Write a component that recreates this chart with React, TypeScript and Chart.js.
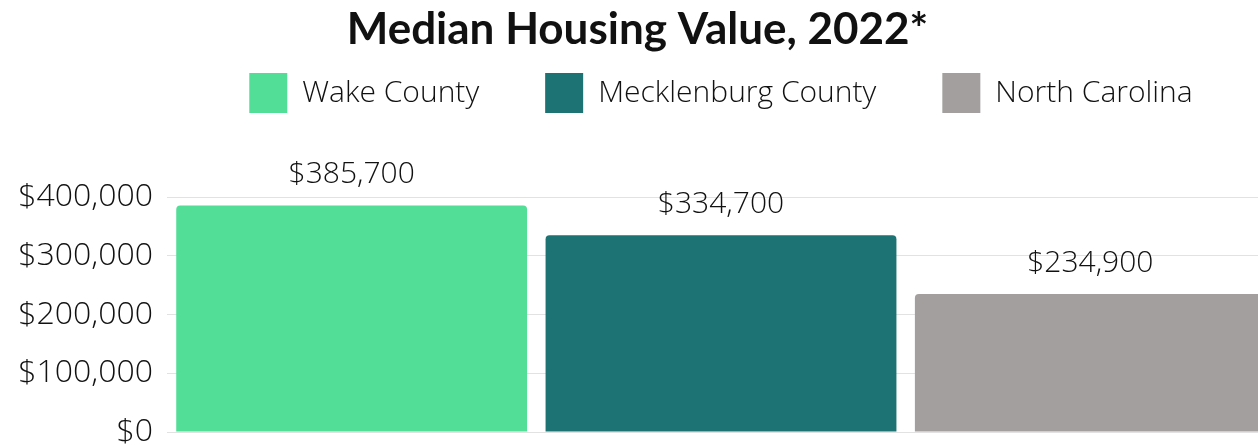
import { useEffect, useRef } from 'react';
import { Chart, registerables } from 'chart.js';

Chart.register(...registerables);

const titleText = 'Median Housing Value, 2022*';
const categories = ['Median Housing Value, 2022'];
const seriesNames = ['Wake County', 'Mecklenburg County', 'North Carolina'];
const seriesValues = [385700, 334700, 234900];
const seriesColors = ['#53DE98', '#1D7373', '#A29F9E'];
const yTickValues = [0, 100000, 200000, 300000, 400000];

const FONT = '"Open Sans", "Noto Sans", sans-serif';
const fmt = (v: number) => '$' + v.toLocaleString('en-US');

const valueLabels = {
  id: 'valueLabels',
  afterDatasetsDraw(chart: any) {
    const ctx = chart.ctx;
    ctx.save();
    ctx.font = `300 30px ${FONT}`;
    ctx.fillStyle = '#111111';
    ctx.textAlign = 'center';
    ctx.textBaseline = 'alphabetic';
    chart.data.datasets.forEach((ds: any, i: number) => {
      const meta = chart.getDatasetMeta(i);
      meta.data.forEach((bar: any, j: number) => {
        ctx.fillText(fmt(ds.data[j]), bar.x, bar.y - 22);
      });
    });
    ctx.restore();
  },
};

export default function App() {
  const ref = useRef<HTMLCanvasElement | null>(null);

  useEffect(() => {
    if (!ref.current) return;
    const chart = new Chart(ref.current, {
      type: 'bar',
      data: {
        labels: categories,
        datasets: seriesNames.map((name, i) => ({
          label: name,
          data: [seriesValues[i]],
          backgroundColor: seriesColors[i],
          borderWidth: 0,
          borderRadius: 4,
          categoryPercentage: 1,
          barPercentage: 0.95,
        })),
      },
      options: {
        responsive: false,
        animation: false,
        devicePixelRatio: 1,
        layout: { padding: { top: 0, right: 5, bottom: 15, left: 0 } },
        plugins: {
          title: {
            display: true,
            text: titleText,
            color: '#111111',
            font: { family: 'Lato, "Open Sans", sans-serif', size: 44, weight: 'bold', lineHeight: 1.2 },
            padding: { top: 3, bottom: -48.8 },
          },
          legend: {
            display: true,
            position: 'top',
            fullSize: false,
            labels: {
              boxWidth: 38,
              boxHeight: 40,
              padding: 66,
              color: '#111111',
              font: { family: FONT, size: 30, weight: '300' },
            },
          },
          tooltip: { enabled: false },
        },
        scales: {
          x: {
            type: 'category',
            position: 'top',
            display: true,
            grid: { display: false },
            border: { display: false },
            ticks: { display: false },
            afterFit: (s: any) => {
              s.height = 74;
            },
          },
          y: {
            type: 'linear',
            min: 0,
            max: 400000,
            border: { display: false },
            grid: { color: '#e2e2e2', lineWidth: 1, drawTicks: false },
            afterBuildTicks: (s: any) => {
              s.ticks = yTickValues.map((v) => ({ value: v }));
            },
            ticks: {
              padding: 14,
              color: '#111111',
              font: { family: FONT, size: 32, weight: '300', lineHeight: 0.05 },
              callback: (v: any) => fmt(Number(v)),
            },
            afterFit: (s: any) => {
              s.width = 167;
            },
          },
        },
      },
      plugins: [valueLabels],
    });
    return () => chart.destroy();
  }, []);

  return (
    <div style={{ position: 'absolute', left: 0, top: 0, width: 1258, height: 447, overflow: 'hidden', background: '#fff' }}>
      <canvas ref={ref} width={1280} height={447} style={{ width: 1280, height: 447, display: 'block' }} />
    </div>
  );
}
